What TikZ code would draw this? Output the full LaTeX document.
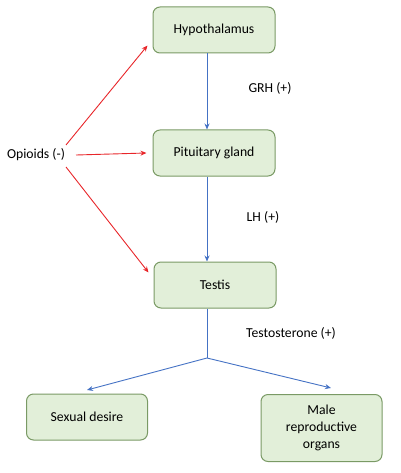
\documentclass[tikz,border=0pt]{standalone}
\usepackage{fontspec}
\setmainfont{Carlito}
\usetikzlibrary{arrows.meta}
\definecolor{boxfill}{HTML}{E2EFD9}
\definecolor{boxdraw}{HTML}{7A9A65}
\definecolor{bluearr}{HTML}{4472C4}
\definecolor{redarr}{HTML}{E8262A}
\begin{document}
\begin{tikzpicture}[x=1pt,y=-1pt,
  box/.style={draw=boxdraw,fill=boxfill,line width=1pt,rounded corners=7pt,minimum width=122pt,minimum height=46pt,inner sep=0pt,align=center,font=\fontsize{13.7}{17}\selectfont},
  lbl/.style={font=\fontsize{13.7}{16}\selectfont,inner sep=0pt},
  barrow/.style={draw=bluearr,line width=0.9pt,-{Stealth[length=6pt,width=5pt]}},
  rarrow/.style={draw=redarr,line width=0.9pt,-{Stealth[length=6pt,width=5pt]}}]
\useasboundingbox (0,0) rectangle (400,473);
\node[box] (hyp) at (214,30) {Hypothalamus};
\node[box] (pit) at (214,153) {Pituitary gland};
\node[box] (tes) at (215,285) {Testis};
\node[box,minimum width=121pt] (sex) at (87,417) {Sexual desire};
\node[box,minimum width=121pt,minimum height=67pt] (male) at (321.5,428) {Male\\reproductive\\organs};
\node[lbl] (op) at (36,155) {Opioids (-)};
\node[lbl] (grh) at (270,88) {GRH (+)};
\node[lbl] (lh) at (263,217) {LH (+)};
\node[lbl] (tst) at (291,333) {Testosterone (+)};
\coordinate (j) at (207,358);
\coordinate (sl) at (87,390);
\coordinate (ml) at (331,388);
\draw[barrow] (hyp.south -| j) -- (pit.north -| j);
\draw[barrow] (pit.south -| j) -- (tes.north -| j);
\draw[draw=bluearr,line width=0.9pt] (tes.south -| j) -- (j);
\draw[barrow] (j) -- (sl);
\draw[barrow] (j) -- (ml);
\draw[rarrow] ([shift={(30,-10)}]op.center) -- ([shift={(-5,-8)}]hyp.south west);
\draw[rarrow] ([shift={(40,0)}]op.center) -- ([shift={(-6,0)}]pit.west);
\draw[rarrow] ([shift={(30,12)}]op.center) -- ([shift={(-5,11)}]tes.north west);
\end{tikzpicture}
\end{document}
